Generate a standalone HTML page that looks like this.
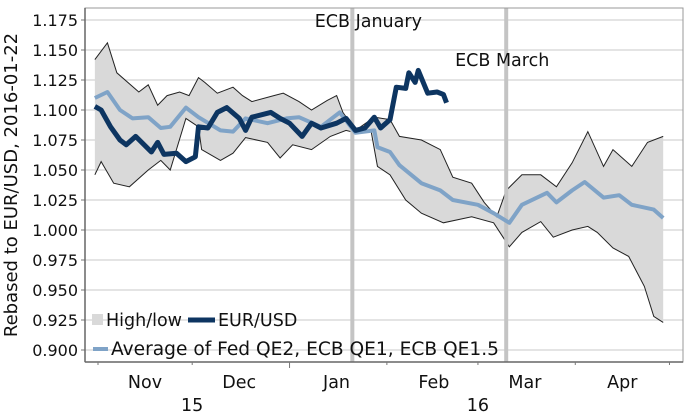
<!DOCTYPE html>
<html><head><meta charset="utf-8"><style>
html,body{margin:0;padding:0;background:#fff;}
svg{display:block;font-family:"DejaVu Sans","Liberation Sans",sans-serif;}
</style></head><body>
<svg id="chart" width="689" height="414" viewBox="0 0 689 414" xmlns="http://www.w3.org/2000/svg">
<g id="grid"></g>
<g id="band"></g>
<g id="events"></g>
<g id="lines"></g>
<g id="axes"></g>
<text transform="translate(17,185) rotate(-90)" text-anchor="middle" font-size="18" fill="#111">Rebased to EUR/USD, 2016-01-22</text>
<g>
  <rect x="92" y="314" width="11" height="11" fill="#d9d9d9"/>
  <text x="106" y="326" font-size="17.5" fill="#111">High/low</text>
  <line x1="188" y1="320" x2="215" y2="320" stroke="#0d3561" stroke-width="5"/>
  <text x="218" y="326" font-size="17.5" fill="#111">EUR/USD</text>
  <line x1="93" y1="349" x2="108" y2="349" stroke="#7fa3c7" stroke-width="4"/>
  <text x="111" y="355" font-size="18.5" fill="#111" textLength="388" lengthAdjust="spacingAndGlyphs">Average of Fed QE2, ECB QE1, ECB QE1.5</text>
</g>
</svg>
<script>
// days since 2015-11-01 and values
const upperDays=[-1,3,6,13,16,19,22,26,29,32,34,38,43,46,49,56,59,64,68,73,76,78,82,88,93,96,103,109,113,119,123,127,130,135,141,146,151,156,161,164,170,175,180];
const upperVals=[1.142,1.156,1.131,1.115,1.121,1.104,1.112,1.115,1.112,1.127,1.123,1.114,1.119,1.112,1.107,1.112,1.114,1.107,1.100,1.108,1.112,1.098,1.083,1.094,1.092,1.078,1.075,1.067,1.044,1.039,1.023,1.011,1.033,1.046,1.046,1.036,1.056,1.082,1.053,1.067,1.053,1.073,1.078];
const lowerDays=[-1,1,5,10,16,20,23,28,32,33,39,43,47,54,58,62,68,74,79,82,87,89,93,98,103,110,119,126,131,135,141,145,151,156,159,164,169,174,177,180];
const lowerVals=[1.046,1.057,1.039,1.036,1.050,1.058,1.050,1.093,1.086,1.067,1.058,1.064,1.077,1.073,1.060,1.071,1.067,1.078,1.083,1.081,1.082,1.053,1.046,1.025,1.014,1.006,1.011,1.006,0.986,0.998,1.007,0.994,1.000,1.003,0.998,0.985,0.978,0.953,0.928,0.923];
const avgDays=[-1,3,7,11,16,20,23,28,32,39,43,47,54,60,64,71,77,82,88,89,93,96,103,109,113,121,126,131,135,143,146,151,155,161,166,170,177,180];
const avgVals=[1.110,1.115,1.100,1.093,1.094,1.085,1.086,1.102,1.094,1.083,1.082,1.093,1.089,1.093,1.094,1.086,1.098,1.081,1.083,1.069,1.065,1.054,1.039,1.033,1.025,1.021,1.014,1.006,1.021,1.031,1.023,1.033,1.040,1.027,1.029,1.021,1.017,1.010];
const eurDays=[-1,1,4,7,9,12,17,19,21,25,28,31,32,35,38,41,45,47,49,55,58,61,65,68,71,76,79,82,85,88,90,93,95,98,99,101,102,105,108,110,111];
const eurVals=[1.103,1.100,1.086,1.075,1.071,1.078,1.065,1.073,1.063,1.064,1.057,1.061,1.086,1.085,1.098,1.102,1.093,1.083,1.094,1.098,1.093,1.089,1.078,1.089,1.085,1.089,1.093,1.083,1.085,1.094,1.085,1.092,1.119,1.118,1.131,1.123,1.133,1.114,1.115,1.113,1.106];
const yTicks=["0.900","0.925","0.950","0.975","1.000","1.025","1.050","1.075","1.100","1.125","1.150","1.175"];
const monthLabels=["Nov","Dec","Jan","Feb","Mar","Apr"];
const monthStarts=[0,30,61,92,121,152];
const yearLabels=["15","16"];
const yearDays=[30,121];
const eventLabels=["ECB January","ECB March"];
const eventDays=[81,130];

const NS="http://www.w3.org/2000/svg";
const L=85,R=683,T=8,B=362;
function xs(d){return 98+d*3.14;}
function ys(v){return 350-(v-0.9)*1200;}
function mk(tag,attrs,parent){const e=document.createElementNS(NS,tag);for(const k in attrs)e.setAttribute(k,attrs[k]);parent.appendChild(e);return e;}
const grid=document.getElementById('grid'),band=document.getElementById('band'),ev=document.getElementById('events'),lines=document.getElementById('lines'),axes=document.getElementById('axes');

yTicks.forEach(t=>{
  const y=ys(parseFloat(t));
  const g=mk('line',{x1:L,x2:R,y1:y,y2:y,stroke:'#e4e4e4','stroke-width':2},grid);
  
  
  const tk=mk('line',{x1:L-4,x2:L,y1:y,y2:y,stroke:'#777'},axes);
  
  
  const tx=mk('text',{x:L-7,y:y+6,'text-anchor':'end','font-size':16,fill:'#111'},axes);
  tx.textContent=t;
  
  
});

let pts=upperDays.map((d,i)=>xs(d)+','+ys(upperVals[i]));
for(let i=lowerDays.length-1;i>=0;i--)pts.push(xs(lowerDays[i])+','+ys(lowerVals[i]));
const poly=mk('polygon',{points:pts.join(' '),fill:'#d9d9d9',stroke:'none'},band);


const up=mk('polyline',{points:upperDays.map((d,i)=>xs(d)+','+ys(upperVals[i])).join(' '),fill:'none',stroke:'#222','stroke-width':1},band);


const lo=mk('polyline',{points:lowerDays.map((d,i)=>xs(d)+','+ys(lowerVals[i])).join(' '),fill:'none',stroke:'#222','stroke-width':1},band);



eventDays.forEach((d,i)=>{
  const x=xs(d);
  const l=mk('line',{x1:x,x2:x,y1:T,y2:B,stroke:'#c4c4c4','stroke-width':4},ev);
  
  
  const t=mk('text',{x:i==0?x+16:x-4,y:i==0?27:66,'text-anchor':'middle','font-size':17.5,fill:'#111'},ev);
  t.textContent=eventLabels[i];
  
  
});

const a=mk('polyline',{points:avgDays.map((d,i)=>xs(d)+','+ys(avgVals[i])).join(' '),fill:'none',stroke:'#7fa3c7','stroke-width':4,'stroke-linejoin':'round'},lines);


const e=mk('polyline',{points:eurDays.map((d,i)=>xs(d)+','+ys(eurVals[i])).join(' '),fill:'none',stroke:'#0d3561','stroke-width':5,'stroke-linejoin':'round'},lines);



const fr=mk('rect',{x:L,y:T,width:R-L,height:B-T,fill:'none',stroke:'#999','stroke-width':1},axes);


const ax=mk('line',{x1:L,x2:L,y1:T,y2:B,stroke:'#666','stroke-width':1.5},axes);


const bx=mk('line',{x1:L,x2:R,y1:B,y2:B,stroke:'#666','stroke-width':1.5},axes);



monthLabels.forEach((m,i)=>{
  const x0=xs(monthStarts[i]);
  const tk=mk('line',{x1:x0,x2:x0,y1:B,y2:B+(i==2?6:3),stroke:'#777'},axes);
  
  
  const t=mk('text',{x:x0+47,y:388,'text-anchor':'middle','font-size':17.5,fill:'#111'},axes);
  t.textContent=m;
  
  
});
const tk6=mk('line',{x1:xs(182),x2:xs(182),y1:B,y2:B+3,stroke:'#777'},axes);


yearLabels.forEach((y,i)=>{
  const t=mk('text',{x:xs(yearDays[i]),y:411,'text-anchor':'middle','font-size':17.5,fill:'#111'},axes);
  t.textContent=y;
  
  
});
</script>
</body></html>
